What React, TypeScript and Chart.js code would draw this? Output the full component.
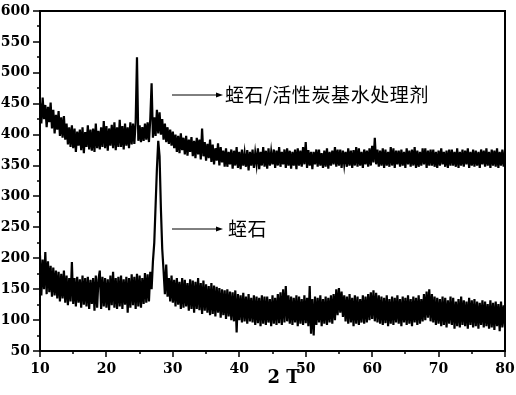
import React, { useEffect, useRef } from "react";
import { Chart, registerables } from "chart.js";

Chart.register(...registerables);

// 2θ sampling grid: 10.0 → 80.0 in 0.2° steps (rows below = one degree each)
const TWO_THETA_START = 10;
const TWO_THETA_STEP = 0.2;

// 蛭石/活性炭基水处理剂 (upper trace), counts
const compositeCounts: number[] = [
  452, 418, 460, 425, 448, // 10
  412, 445, 420, 452, 410, // 11
  440, 402, 432, 408, 438, // 12
  398, 428, 395, 430, 392, // 13
  418, 384, 412, 380, 415, // 14
  378, 410, 372, 405, 382, // 15
  408, 375, 412, 370, 404, // 16
  380, 415, 376, 408, 374, // 17
  410, 372, 418, 378, 406, // 18
  376, 412, 380, 422, 378, // 19
  414, 374, 410, 382, 416, // 20
  378, 420, 375, 412, 380, // 21
  424, 380, 414, 376, 418, // 22
  382, 412, 378, 420, 384, // 23
  418, 385, 420, 525, 390, // 24
  415, 388, 412, 390, 418, // 25
  392, 420, 388, 425, 483, // 26
  395, 428, 398, 440, 402, // 27
  436, 400, 425, 392, 418, // 28
  388, 412, 385, 408, 382, // 29
  405, 378, 400, 372, 398, // 30
  370, 402, 375, 395, 368, // 31
  398, 366, 392, 372, 396, // 32
  365, 390, 362, 395, 368, // 33
  392, 360, 410, 365, 388, // 34
  358, 385, 362, 392, 356, // 35
  384, 352, 378, 358, 386, // 36
  350, 380, 355, 374, 348, // 37
  378, 348, 372, 352, 376, // 38
  345, 374, 350, 380, 346, // 39
  372, 344, 376, 350, 370, // 40
  348, 375, 342, 372, 350, // 41
  376, 346, 370, 352, 378, // 42
  344, 372, 350, 380, 348, // 43
  374, 345, 378, 350, 372, // 44
  352, 376, 346, 374, 350, // 45
  380, 348, 372, 352, 376, // 46
  346, 378, 350, 374, 345, // 47
  372, 350, 376, 344, 378, // 48
  350, 374, 348, 380, 352, // 49
  388, 346, 375, 350, 372, // 50
  344, 372, 352, 376, 348, // 51
  376, 350, 370, 346, 374, // 52
  348, 378, 345, 372, 350, // 53
  374, 352, 380, 348, 376, // 54
  350, 376, 346, 374, 352, // 55
  372, 348, 378, 350, 374, // 56
  346, 375, 350, 380, 348, // 57
  378, 350, 372, 346, 376, // 58
  352, 374, 348, 378, 350, // 59
  382, 355, 395, 352, 376, // 60
  348, 374, 350, 378, 346, // 61
  376, 350, 372, 348, 380, // 62
  350, 378, 346, 374, 352, // 63
  374, 348, 376, 350, 372, // 64
  346, 378, 352, 374, 348, // 65
  376, 350, 380, 346, 374, // 66
  348, 372, 350, 378, 352, // 67
  378, 346, 374, 350, 376, // 68
  350, 376, 348, 372, 346, // 69
  374, 350, 378, 352, 372, // 70
  348, 374, 346, 376, 350, // 71
  376, 350, 372, 348, 378, // 72
  346, 372, 350, 376, 348, // 73
  374, 352, 378, 346, 372, // 74
  350, 376, 348, 374, 350, // 75
  372, 346, 376, 352, 374, // 76
  348, 378, 350, 372, 346, // 77
  376, 350, 374, 348, 378, // 78
  346, 372, 350, 376, 348, // 79
  374, // 80
];

// 蛭石 (lower trace), counts
const vermiculiteCounts: number[] = [
  205, 140, 198, 150, 210, // 10
  142, 195, 145, 188, 138, // 11
  185, 140, 180, 135, 178, // 12
  130, 175, 135, 180, 128, // 13
  172, 124, 168, 130, 194, // 14
  126, 168, 122, 170, 128, // 15
  166, 120, 172, 125, 168, // 16
  122, 170, 118, 165, 126, // 17
  168, 115, 172, 120, 166, // 18
  180, 118, 170, 122, 168, // 19
  120, 166, 116, 172, 124, // 20
  178, 120, 168, 118, 170, // 21
  122, 172, 118, 166, 125, // 22
  170, 112, 168, 120, 174, // 23
  124, 170, 118, 175, 122, // 24
  172, 120, 168, 126, 176, // 25
  128, 174, 130, 178, 150, // 26
  195, 225, 285, 345, 390, // 27
  365, 280, 215, 180, 142, // 28
  190, 138, 168, 130, 172, // 29
  128, 165, 122, 168, 125, // 30
  162, 118, 168, 120, 165, // 31
  122, 160, 115, 166, 118, // 32
  164, 112, 162, 118, 168, // 33
  116, 160, 110, 164, 115, // 34
  158, 112, 155, 108, 160, // 35
  110, 156, 106, 154, 112, // 36
  152, 104, 150, 108, 148, // 37
  102, 150, 106, 146, 100, // 38
  145, 98, 148, 80, 142, // 39
  100, 140, 96, 144, 98, // 40
  138, 94, 142, 98, 136, // 41
  96, 140, 92, 138, 95, // 42
  136, 90, 140, 94, 138, // 43
  92, 138, 96, 134, 90, // 44
  140, 94, 136, 92, 142, // 45
  95, 145, 92, 150, 96, // 46
  155, 98, 140, 94, 138, // 47
  92, 136, 96, 140, 90, // 48
  138, 94, 134, 92, 140, // 49
  95, 136, 90, 155, 78, // 50
  134, 75, 138, 92, 136, // 51
  96, 140, 90, 134, 94, // 52
  138, 92, 136, 96, 140, // 53
  94, 142, 100, 150, 108, // 54
  152, 112, 146, 105, 140, // 55
  98, 138, 94, 142, 96, // 56
  136, 90, 140, 94, 138, // 57
  92, 134, 96, 140, 94, // 58
  138, 96, 142, 100, 145, // 59
  102, 148, 98, 144, 96, // 60
  140, 94, 138, 92, 136, // 61
  95, 140, 90, 134, 94, // 62
  138, 92, 136, 96, 140, // 63
  94, 134, 90, 138, 96, // 64
  136, 92, 140, 94, 134, // 65
  90, 138, 96, 136, 92, // 66
  140, 94, 134, 98, 142, // 67
  100, 146, 104, 150, 98, // 68
  142, 96, 138, 92, 136, // 69
  94, 134, 90, 138, 92, // 70
  136, 88, 132, 94, 138, // 71
  92, 136, 86, 130, 90, // 72
  134, 88, 138, 92, 132, // 73
  90, 130, 86, 136, 92, // 74
  132, 88, 134, 90, 130, // 75
  86, 128, 92, 132, 88, // 76
  130, 90, 126, 86, 132, // 77
  88, 128, 84, 130, 90, // 78
  126, 82, 130, 88, 124, // 79
  90, // 80
];

const X_MIN = 10;
const X_MAX = 80;
const X_MAJOR = 10;
const X_MINOR = 5;
const Y_MIN = 50;
const Y_MAX = 600;
const Y_MAJOR = 50;
const Y_MINOR = 25;

const xTitle = "2 T";
const compositeLabel = "蛭石/活性炭基水处理剂";
const vermiculiteLabel = "蛭石";

const TICK_FONT = { family: "'DejaVu Serif', serif", size: 14, weight: "bold" as const };

function toPoints(values: number[]) {
  return values.map((v, i) => ({ x: TWO_THETA_START + i * TWO_THETA_STEP, y: v }));
}

const decorPlugin = {
  id: "decor",
  afterDatasetsDraw(chart: any) {
    const { ctx, chartArea } = chart;
    const { left, right, top, bottom } = chartArea;
    const xs = chart.scales.x;
    const ys = chart.scales.y;
    ctx.save();
    ctx.strokeStyle = "#000";
    ctx.fillStyle = "#000";
    ctx.lineWidth = 2;
    ctx.strokeRect(left, top, right - left, bottom - top);

    ctx.lineWidth = 1.5;
    ctx.beginPath();
    for (let v = X_MIN; v <= X_MAX + 1e-9; v += X_MINOR) {
      const px = Math.round(xs.getPixelForValue(v));
      const len = v % X_MAJOR === 0 ? 6 : 3;
      ctx.moveTo(px, bottom);
      ctx.lineTo(px, bottom + len);
    }
    for (let v = Y_MIN; v <= Y_MAX + 1e-9; v += Y_MINOR) {
      const py = Math.round(ys.getPixelForValue(v));
      const len = v % Y_MAJOR === 0 ? 7 : 3;
      ctx.moveTo(left, py);
      ctx.lineTo(left - len, py);
    }
    ctx.stroke();

    // annotations with arrows
    const drawArrow = (x0: number, x1: number, y: number) => {
      ctx.lineWidth = 1;
      ctx.beginPath();
      ctx.moveTo(x0, y);
      ctx.lineTo(x1 - 5, y);
      ctx.stroke();
      ctx.beginPath();
      ctx.moveTo(x1, y);
      ctx.lineTo(x1 - 7, y - 2.5);
      ctx.lineTo(x1 - 7, y + 2.5);
      ctx.closePath();
      ctx.fill();
    };
    ctx.font = "19px 'Noto Sans CJK SC', sans-serif";
    ctx.textBaseline = "middle";
    ctx.textAlign = "left";
    try { (ctx as any).letterSpacing = "0.6px"; } catch (e) {}
    drawArrow(172, 223, 95);
    ctx.fillText(compositeLabel, 225, 95);
    drawArrow(172, 223, 229);
    ctx.fillText(vermiculiteLabel, 228, 229);
    try { (ctx as any).letterSpacing = "0px"; } catch (e) {}

    // x axis title
    ctx.font = "bold 18px 'DejaVu Serif', serif";
    ctx.textAlign = "center";
    ctx.textBaseline = "alphabetic";
    ctx.fillText(xTitle, (left + right) / 2 + 11, 383);
    ctx.restore();
  },
};

export default function App() {
  const ref = useRef<HTMLCanvasElement | null>(null);

  useEffect(() => {
    document.body.style.margin = "0";
    const canvas = ref.current;
    if (!canvas) return;
    const chart = new Chart(canvas, {
      type: "line",
      data: {
        datasets: [
          {
            label: compositeLabel,
            data: toPoints(compositeCounts),
            borderColor: "#000",
            borderWidth: 2.2,
            pointRadius: 0,
            tension: 0,
            fill: false,
          },
          {
            label: vermiculiteLabel,
            data: toPoints(vermiculiteCounts),
            borderColor: "#000",
            borderWidth: 2.2,
            pointRadius: 0,
            tension: 0,
            fill: false,
          },
        ],
      },
      options: {
        animation: false,
        responsive: true,
        maintainAspectRatio: false,
        layout: { padding: { top: 11, right: 11, left: 0, bottom: 0 } },
        plugins: {
          legend: { display: false },
          tooltip: { enabled: false },
        },
        events: [],
        scales: {
          x: {
            type: "linear",
            min: X_MIN,
            max: X_MAX,
            grid: { display: false, drawTicks: false },
            border: { display: false },
            ticks: {
              stepSize: X_MAJOR,
              color: "#000",
              font: TICK_FONT,
              padding: 10,
              maxRotation: 0,
            },
            afterFit: (scale: any) => {
              scale.height = 44;
              scale.paddingLeft = 0;
              scale.paddingRight = 0;
            },
          },
          y: {
            type: "linear",
            min: Y_MIN,
            max: Y_MAX,
            grid: { display: false, drawTicks: false },
            border: { display: false },
            ticks: {
              stepSize: Y_MAJOR,
              color: "#000",
              font: TICK_FONT,
              padding: 10,
            },
            afterFit: (scale: any) => {
              scale.width = 40;
              scale.paddingTop = 0;
              scale.paddingBottom = 0;
            },
          },
        },
      },
      plugins: [decorPlugin],
    });
    return () => chart.destroy();
  }, []);

  return (
    <div style={{ position: "relative", width: 516, height: 395, background: "#fff" }}>
      <canvas ref={ref} />
    </div>
  );
}
